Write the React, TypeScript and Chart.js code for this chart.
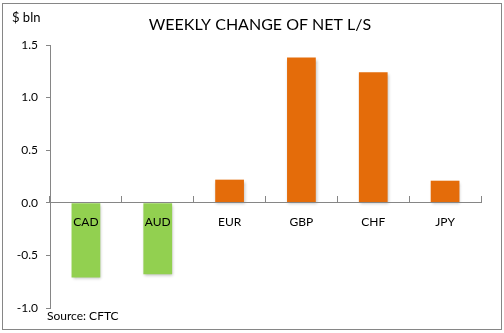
import React, { useEffect, useRef } from "react";
import { Chart, registerables } from "chart.js";

Chart.register(...registerables);

const categories = ["CAD", "AUD", "EUR", "GBP", "CHF", "JPY"];
const weeklyChange = [-0.71, -0.68, 0.22, 1.38, 1.24, 0.21];
const barColors = ["#92D050", "#92D050", "#E46C0A", "#E46C0A", "#E46C0A", "#E46C0A"];
const titleText = "WEEKLY CHANGE OF NET L/S";
const unitText = "$ bln";
const sourceText = "Source: CFTC";
const FONT = "Lato, 'Open Sans', sans-serif";

const framePlugin = {
  id: "frame",
  beforeDraw(chart: any) {
    const { ctx, width, height } = chart;
    ctx.save();
    ctx.fillStyle = "#ffffff";
    ctx.fillRect(0, 0, width, height);
    ctx.strokeStyle = "#868686";
    ctx.lineWidth = 1;
    ctx.strokeRect(2.5, 3.5, 499, 326);
    ctx.restore();
  },
  beforeDatasetsDraw(chart: any) {
    const { ctx } = chart;
    ctx.save();
    ctx.shadowColor = "rgba(0,0,0,0.25)";
    ctx.shadowBlur = 3;
    ctx.shadowOffsetX = 1;
    ctx.shadowOffsetY = 2;
  },
  afterDatasetsDraw(chart: any) {
    chart.ctx.restore();
  },
  afterDraw(chart: any) {
    const { ctx } = chart;
    ctx.save();
    ctx.fillStyle = "#000000";
    ctx.textBaseline = "middle";
    ctx.textAlign = "center";
    ctx.font = `16px ${FONT}`;
    ctx.fillText(titleText, 260, 25);
    ctx.textAlign = "left";
    ctx.font = `13px ${FONT}`;
    ctx.fillText(unitText, 12, 18);
    ctx.font = `12px ${FONT}`;
    ctx.fillText(sourceText, 47, 316);
    ctx.restore();
  },
};

export default function App() {
  const ref = useRef<HTMLCanvasElement | null>(null);
  useEffect(() => {
    if (!ref.current) return;
    const chart = new Chart(ref.current, {
      type: "bar",
      data: {
        labels: categories,
        datasets: [
          {
            data: weeklyChange,
            backgroundColor: barColors,
            borderWidth: 0,
            barPercentage: 0.4,
            categoryPercentage: 1,
          },
        ],
      },
      options: {
        animation: false,
        responsive: false,
        maintainAspectRatio: false,
        layout: { padding: { left: 0, right: 23, top: 45, bottom: 25 } },
        plugins: { legend: { display: false }, tooltip: { enabled: false }, title: { display: false } },
        scales: {
          x: {
            position: { y: 0 } as any,
            afterFit(scale: any) {
              scale.height = 0;
            },
            grid: {
              drawOnChartArea: false,
              drawTicks: true,
              tickLength: -7,
              tickColor: "#868686",
              offset: true,
              z: 1,
            },
            border: { display: true, color: "#868686", width: 1, z: 1 },
            ticks: {
              z: 1,
              padding: 19,
              color: "#000000",
              font: { family: FONT, size: 12 },
              maxRotation: 0,
            },
          },
          y: {
            min: -1.0,
            max: 1.5,
            afterFit(scale: any) {
              scale.width = 50;
            },
            grid: { drawOnChartArea: false, drawTicks: true, tickLength: 4, tickColor: "#868686" },
            border: { display: true, color: "#868686", width: 1 },
            ticks: {
              stepSize: 0.5,
              padding: 8,
              color: "#000000",
              font: { family: FONT, size: 12 },
              callback: (v: any) => Number(v).toFixed(1),
            },
          },
        },
      },
      plugins: [framePlugin],
    });
    return () => chart.destroy();
  }, []);
  return (
    <div style={{ position: "fixed", left: 0, top: 0, width: 504, height: 333, background: "#fff" }}>
      <canvas ref={ref} width={504} height={333} style={{ width: 504, height: 333, display: "block" }} />
    </div>
  );
}
